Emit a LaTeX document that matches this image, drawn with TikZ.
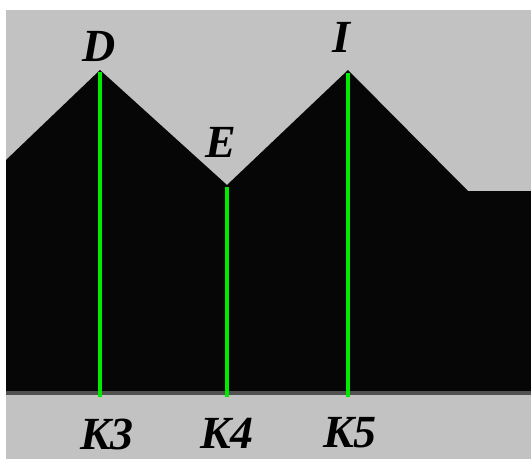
\documentclass[tikz,border=0pt]{standalone}
\usepackage{fontspec}
\setmainfont{Liberation Serif}
\definecolor{bggray}{RGB}{194,194,194}
\definecolor{mtblack}{RGB}{6,6,6}
\definecolor{edgegray}{RGB}{80,80,80}
\definecolor{lgreen}{RGB}{0,235,0}
\tikzset{
  lbl/.style={inner sep=0pt, font=\fontsize{46}{50}\selectfont\bfseries\itshape, text=black},
  gline/.style={draw=lgreen, line width=3.5pt}
}
\begin{document}
\begin{tikzpicture}[x=1pt,y=-1pt]
\useasboundingbox (0,0) rectangle (531,459);
\fill[white] (0,0) rectangle (531,459);
\fill[bggray] (6,10) rectangle (531,459);
% mountain
\fill[mtblack] (6,160) -- (100,70) -- (227,185) -- (348,70) -- (468,191) -- (531,191) -- (531,392) -- (6,392) -- cycle;
\fill[edgegray] (6,391) rectangle (531,395);
% peak / valley coordinates
\coordinate (pD) at (100,72);
\coordinate (pE) at (227,187);
\coordinate (pI) at (348,73);
\coordinate (bD) at (100,397);
\coordinate (bE) at (227,397);
\coordinate (bI) at (348,397);
\draw[gline] (pD) -- (bD);
\draw[gline] (pE) -- (bE);
\draw[gline] (pI) -- (bI);
% labels
\node[lbl] (lD) at (99,46) {D};
\node[lbl] (lE) at (221,142) {E};
\node[lbl] (lI) at (341,37) {I};
\node[lbl] (lK3) at (107,434) {K3};
\node[lbl] (lK4) at (227,433) {K4};
\node[lbl] (lK5) at (350,433) {K5};
\end{tikzpicture}
\end{document}
